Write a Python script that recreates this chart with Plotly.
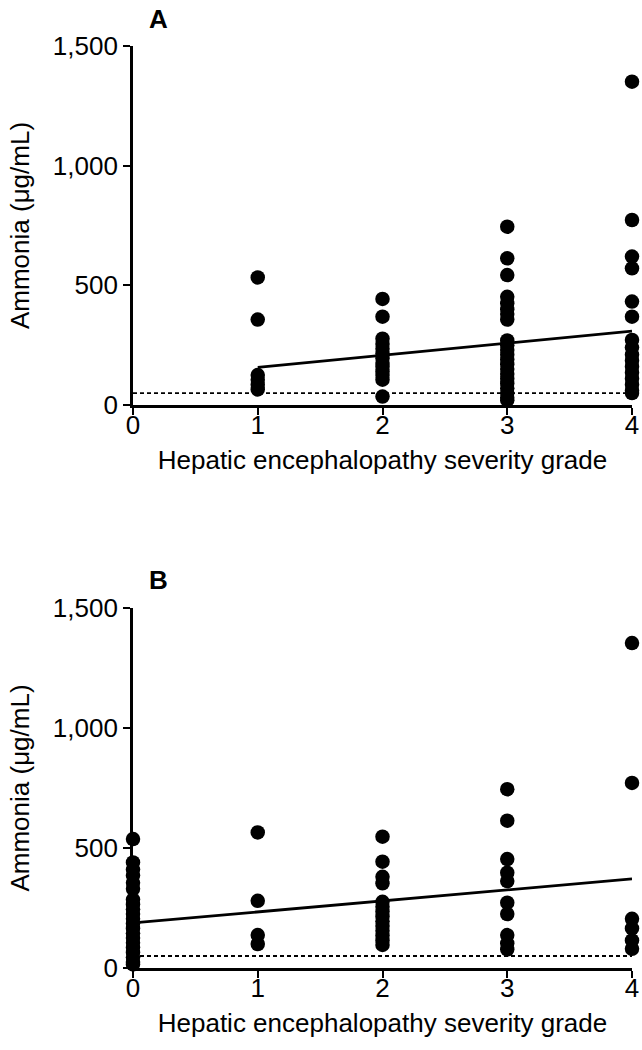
import plotly.graph_objects as go

# ---------------- data ----------------
x_ticks = [0, 1, 2, 3, 4]
y_ticks = [0, 500, 1000, 1500]
y_tick_labels = ["0", "500", "1,000", "1,500"]

# Panel A: grade -> ammonia values
a_grade1 = [533, 357, 125, 105, 85, 65]
a_grade2 = [443, 369, 277, 255, 235, 215, 195, 175, 160, 140, 125, 106, 35]
a_grade3 = [745, 613, 543, 452, 425, 400, 380, 357, 270, 250, 230, 210, 190, 170,
            150, 130, 110, 90, 70, 50, 30, 20]
a_grade4 = [1351, 773, 620, 571, 432, 369, 272, 240, 210, 185, 160, 135, 110, 85, 60, 50]
a_fit_x = [1, 4]
a_fit_y = [157, 309]

# Panel B
b_grade0 = [537, 440, 410, 385, 355, 330, 285, 265, 245, 225, 205, 185, 165, 145, 125,
            105, 85, 65, 45, 25, 15]
b_grade1 = [565, 280, 137, 100]
b_grade2 = [547, 443, 380, 353, 276, 255, 235, 215, 195, 175, 155, 135, 115, 96]
b_grade3 = [745, 614, 454, 397, 362, 272, 225, 137, 103, 78]
b_grade4 = [1354, 771, 205, 165, 115, 80]
b_fit_x = [0, 4]
b_fit_y = [188, 371]

ref_x = [0, 4]
ref_level = 50

x_title = "Hepatic encephalopathy severity grade"
y_title = "Ammonia (μg/mL)"

FONT = "Liberation Sans, Arial, sans-serif"
FS = 26

fig = go.Figure()


def add_panel(groups, fit_x, fit_y, xa, ya):
    xs, ys = [], []
    for g, vals in groups:
        xs += [g] * len(vals)
        ys += vals
    fig.add_trace(go.Scatter(x=ref_x, y=[ref_level, ref_level], mode="lines",
                             line=dict(color="black", width=1.8, dash="4px,3px"),
                             xaxis=xa, yaxis=ya, showlegend=False, hoverinfo="skip",
                             cliponaxis=False))
    fig.add_trace(go.Scatter(x=fit_x, y=fit_y, mode="lines",
                             line=dict(color="black", width=2.8),
                             xaxis=xa, yaxis=ya, showlegend=False, cliponaxis=False))
    fig.add_trace(go.Scatter(x=xs, y=ys, mode="markers",
                             marker=dict(color="black", size=14.5, line=dict(width=0)),
                             xaxis=xa, yaxis=ya, showlegend=False, cliponaxis=False))


add_panel([(1, a_grade1), (2, a_grade2), (3, a_grade3), (4, a_grade4)],
          a_fit_x, a_fit_y, "x", "y")
add_panel([(0, b_grade0), (1, b_grade1), (2, b_grade2), (3, b_grade3), (4, b_grade4)],
          b_fit_x, b_fit_y, "x2", "y2")

H = 1050.0
axis_common_x = dict(range=[0, 4], tickvals=x_ticks, ticktext=[str(t) for t in x_ticks],
                     showline=True, linecolor="black", linewidth=2.8, ticks="outside",
                     ticklen=7, tickwidth=2.4, tickcolor="black", showgrid=False,
                     zeroline=False, automargin=False, ticklabelstandoff=-12,
                     tickfont=dict(family=FONT, size=FS, color="black"),
                     title=dict(text=x_title, font=dict(family=FONT, size=FS, color="black"),
                                standoff=12))
axis_common_y = dict(range=[0, 1500], tickvals=y_ticks, ticktext=y_tick_labels,
                     showline=True, linecolor="black", linewidth=2.8, ticks="outside",
                     ticklen=7, tickwidth=2.4, tickcolor="black", showgrid=False,
                     zeroline=False, automargin=False,
                     tickfont=dict(family=FONT, size=FS, color="black"),
                     title=dict(text=y_title, font=dict(family=FONT, size=FS, color="black"),
                                standoff=16))

fig.update_layout(
    width=642, height=1050,
    margin=dict(l=133, r=10, t=0, b=0, autoexpand=False),
    plot_bgcolor="white", paper_bgcolor="white",
    xaxis=dict(domain=[0, 1], anchor="y", **axis_common_x),
    yaxis=dict(domain=[1 - 405 / H, 1 - 46 / H], anchor="x", **axis_common_y),
    xaxis2=dict(domain=[0, 1], anchor="y2", **axis_common_x),
    yaxis2=dict(domain=[1 - 968 / H, 1 - 608 / H], anchor="x2", **axis_common_y),
    annotations=[
        dict(text="<b>A</b>", x=(158 - 133) / 499, y=1 - 19 / H, xref="paper", yref="paper",
             showarrow=False, font=dict(family=FONT, size=FS, color="black"),
             xanchor="center", yanchor="middle"),
        dict(text="<b>B</b>", x=(158 - 133) / 499, y=1 - 580 / H, xref="paper", yref="paper",
             showarrow=False, font=dict(family=FONT, size=FS, color="black"),
             xanchor="center", yanchor="middle"),
    ],
)

fig.write_html("out.html")
